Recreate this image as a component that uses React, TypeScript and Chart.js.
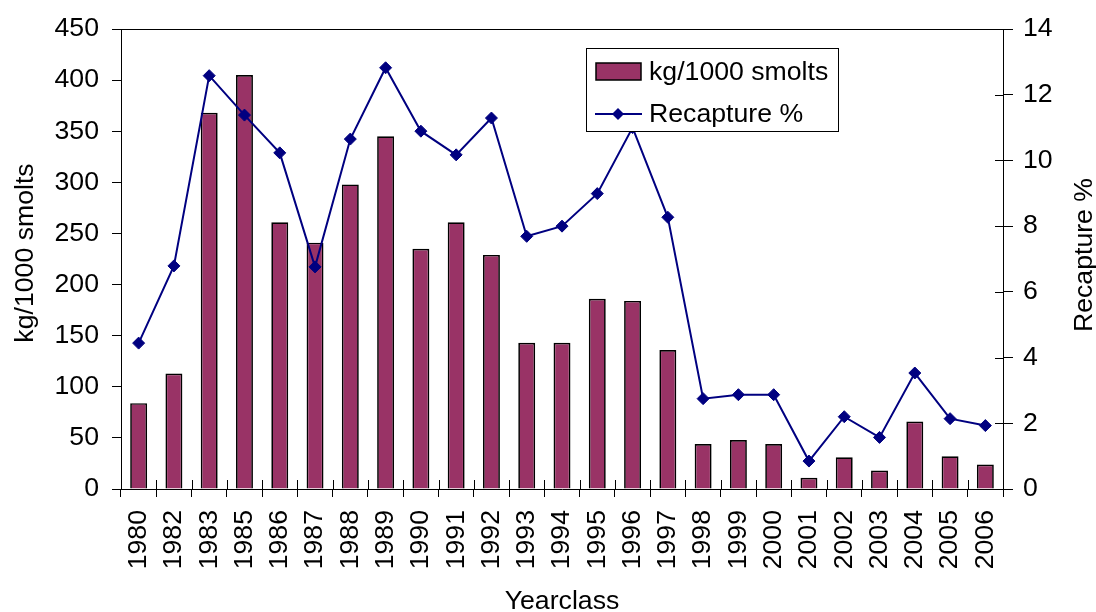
import React, { useEffect, useRef } from "react";
import { Chart, registerables } from "chart.js";

Chart.register(...registerables);

const yearclasses = ["1980","1982","1983","1985","1986","1987","1988","1989","1990","1991","1992","1993","1994","1995","1996","1997","1998","1999","2000","2001","2002","2003","2004","2005","2006"];
const kgPer1000Smolts = [84,113,368,405,261,241,298,345,235,261,229,143,143,186,184,136,44,48,44,11,31,18,66,32,24];
const recapturePct = [4.44,6.79,12.58,11.38,10.23,6.76,10.65,12.82,10.89,10.17,11.29,7.69,8.0,8.99,11.0,8.27,2.75,2.87,2.87,0.85,2.2,1.57,3.53,2.14,1.93];

const leftTicks = { min: 0, max: 450, step: 50 };
const rightTicks = { min: 0, max: 14, step: 2 };

const barLabel = "kg/1000 smolts";
const lineLabel = "Recapture %";
const xTitle = "Yearclass";
const yLeftTitle = "kg/1000 smolts";
const yRightTitle = "Recapture %";

const FONT = "'Liberation Sans', Arial, sans-serif";
const FS = 26.67;
const BAR_COLOR = "#993366";
const LINE_COLOR = "#000080";

export default function App() {
  const ref = useRef<HTMLCanvasElement | null>(null);

  useEffect(() => {
    if (!ref.current) return;

    const decor = {
      id: "decor",
      afterDatasetsDraw(chart: any) {
        const { ctx, chartArea } = chart;
        const { left, right, top, bottom } = chartArea;
        ctx.save();
        ctx.strokeStyle = "#000";
        ctx.lineWidth = 1;
        ctx.beginPath();
        ctx.moveTo(left, top + 0.5);
        ctx.lineTo(right, top + 0.5);
        ctx.stroke();
        const n = yearclasses.length;
        const w = (right - left) / n;
        ctx.beginPath();
        for (let i = 0; i <= n; i++) {
          const x = Math.round(left + i * w) + 0.5;
          ctx.moveTo(x, bottom - 9);
          ctx.lineTo(x, bottom);
        }
        const ys = chart.scales.y1;
        ys.ticks.forEach((t: any) => {
          const y = Math.round(ys.getPixelForValue(t.value)) + 0.5;
          ctx.moveTo(right - 8, y);
          ctx.lineTo(right, y);
        });
        ctx.stroke();

        // legend
        const lx = 586, ly = 48, lw = 252, lh = 83;
        ctx.fillStyle = "#fff";
        ctx.fillRect(lx, ly, lw, lh);
        ctx.strokeStyle = "#000";
        ctx.lineWidth = 1;
        ctx.strokeRect(lx + 0.5, ly + 0.5, lw, lh);
        ctx.fillStyle = BAR_COLOR;
        ctx.fillRect(596, 63, 45, 17);
        ctx.lineWidth = 1.5;
        ctx.strokeRect(596, 63, 45, 17);
        ctx.strokeStyle = LINE_COLOR;
        ctx.lineWidth = 2;
        ctx.beginPath();
        ctx.moveTo(595, 114);
        ctx.lineTo(642, 114);
        ctx.stroke();
        ctx.fillStyle = LINE_COLOR;
        ctx.beginPath();
        ctx.moveTo(618 - 6, 114);
        ctx.lineTo(618, 108);
        ctx.lineTo(618 + 6, 114);
        ctx.lineTo(618, 120);
        ctx.closePath();
        ctx.fill();
        ctx.fillStyle = "#000";
        ctx.font = `${FS}px ${FONT}`;
        ctx.textAlign = "left";
        ctx.textBaseline = "middle";
        ctx.fillText(barLabel, 649, 73);
        ctx.fillText(lineLabel, 649, 115);

        ctx.textAlign = "center";
        ctx.textBaseline = "alphabetic";
        ctx.fillText(xTitle, (left + right) / 2, 609);
        ctx.save();
        ctx.translate(33, 253);
        ctx.rotate(-Math.PI / 2);
        ctx.fillText(yLeftTitle, 0, 0);
        ctx.restore();
        ctx.save();
        ctx.translate(1092, 255);
        ctx.rotate(-Math.PI / 2);
        ctx.fillText(yRightTitle, 0, 0);
        ctx.restore();
        ctx.restore();
      },
    };

    const chart = new Chart(ref.current, {
      type: "bar",
      data: {
        labels: yearclasses,
        datasets: [
          {
            type: "line",
            label: lineLabel,
            data: recapturePct,
            yAxisID: "y1",
            borderColor: LINE_COLOR,
            backgroundColor: LINE_COLOR,
            borderWidth: 2,
            pointStyle: "rectRot",
            pointRadius: 6,
            pointBorderWidth: 1,
            pointBackgroundColor: LINE_COLOR,
            pointBorderColor: LINE_COLOR,
            tension: 0,
            order: 1,
          } as any,
          {
            type: "bar",
            label: barLabel,
            data: kgPer1000Smolts,
            yAxisID: "y",
            backgroundColor: BAR_COLOR,
            borderColor: "#000",
            borderWidth: 1.7,
            categoryPercentage: 1,
            barPercentage: 0.48,
            order: 2,
          } as any,
        ],
      },
      options: {
        animation: false,
        responsive: false,
        layout: { padding: { top: 25, left: 0, right: 0, bottom: 0 } },
        plugins: {
          legend: { display: false },
          tooltip: { enabled: false },
        },
        scales: {
          x: {
            type: "category",
            offset: true,
            grid: { display: true, drawOnChartArea: false, offset: true, tickLength: 8, color: "#000", lineWidth: 1 },
            border: { display: true, color: "#000", width: 1 },
            ticks: {
              autoSkip: false,
              minRotation: 90,
              maxRotation: 90,
              padding: 13,
              color: "#000",
              font: { family: FONT, size: FS },
            },
            afterFit: (s: any) => { s.height = 123; },
          },
          y: {
            position: "left",
            min: leftTicks.min,
            max: leftTicks.max,
            ticks: {
              stepSize: leftTicks.step,
              padding: 13,
              color: "#000",
              font: { family: FONT, size: FS },
            },
            grid: { display: true, drawOnChartArea: false, tickLength: 9, color: "#000" },
            border: { display: true, color: "#000", width: 1 },
            afterFit: (s: any) => { s.width = 121; },
          },
          y1: {
            position: "right",
            min: rightTicks.min,
            max: rightTicks.max,
            ticks: {
              stepSize: rightTicks.step,
              padding: 10,
              color: "#000",
              font: { family: FONT, size: FS },
            },
            grid: { display: true, drawOnChartArea: false, tickLength: 10, color: "#000" },
            border: { display: true, color: "#000", width: 1 },
            afterFit: (s: any) => { s.width = 93; },
          },
        },
      } as any,
      plugins: [decor],
    });
    return () => chart.destroy();
  }, []);

  return (
    <div style={{ position: "absolute", left: 0, top: 0, width: 1096, height: 612, background: "#fff" }}>
      <canvas ref={ref} width={1096} height={612} style={{ width: 1096, height: 612, display: "block" }} />
    </div>
  );
}
